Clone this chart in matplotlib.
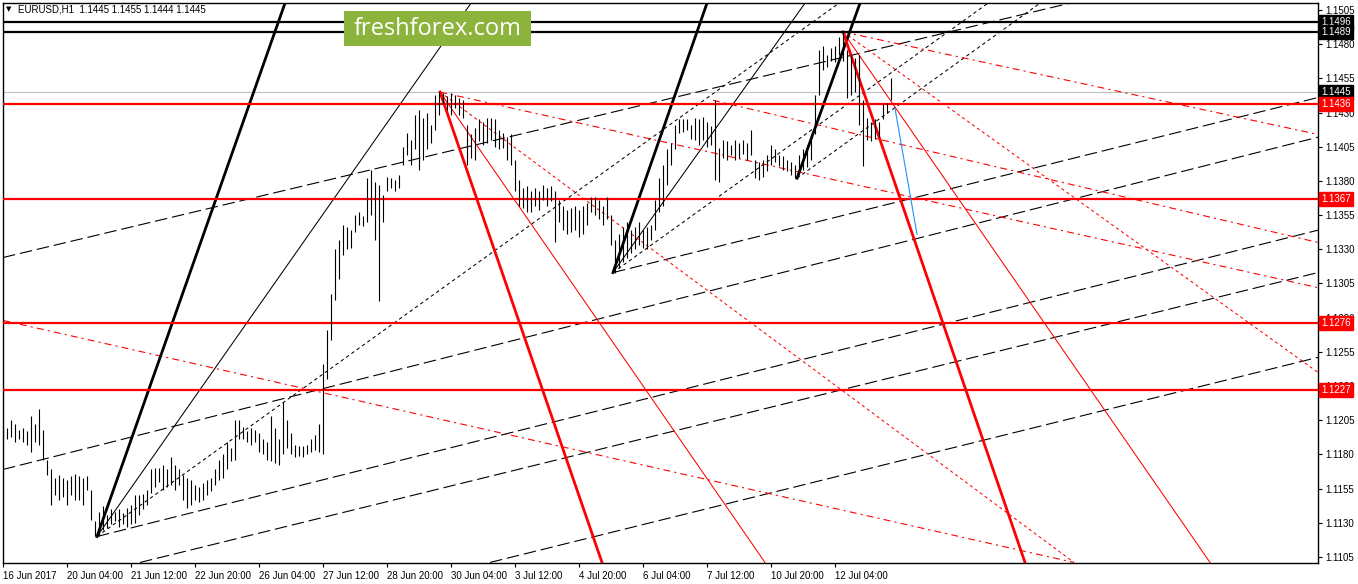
import matplotlib
matplotlib.use("Agg")
import matplotlib.pyplot as plt
from matplotlib.patches import Rectangle

plt.rcParams['lines.scale_dashes'] = False
plt.rcParams['font.family'] = ['Liberation Sans', 'DejaVu Sans']

# hourly index: one candle every 2 hours, x axis counted in hours from the first bar
bar_high = [1.1199, 1.1199, 1.1205, 1.1202, 1.1198, 1.1199, 1.1197, 1.1208, 1.1202, 1.1213,
            1.1198, 1.1176, 1.1169, 1.1163, 1.1165, 1.1163, 1.1161, 1.1164, 1.1166, 1.1164,
            1.1163, 1.1164, 1.1154, 1.1131, 1.1138, 1.1142, 1.1136, 1.1140, 1.1138, 1.1140,
            1.1137, 1.1141, 1.1143, 1.1150, 1.1150, 1.1151, 1.1154, 1.1169, 1.1170, 1.1170,
            1.1172, 1.1169, 1.1178, 1.1172, 1.1169, 1.1165, 1.1163, 1.1161, 1.1158, 1.1156,
            1.1159, 1.1161, 1.1163, 1.1169, 1.1176, 1.1180, 1.1189, 1.1185, 1.1205, 1.1205,
            1.1200, 1.1197, 1.1199, 1.1198, 1.1196, 1.1191, 1.1189, 1.1208, 1.1199, 1.1191,
            1.1218, 1.1205, 1.1196, 1.1187, 1.1186, 1.1186, 1.1187, 1.1191, 1.1194, 1.1202,
            1.1246, 1.1271, 1.1297, 1.1330, 1.1337, 1.1348, 1.1346, 1.1344, 1.1355, 1.1357,
            1.1354, 1.1382, 1.1388, 1.1379, 1.1377, 1.1370, 1.1383, 1.1382, 1.1381, 1.1384,
            1.1405, 1.1415, 1.1410, 1.1428, 1.1432, 1.1426, 1.1430, 1.1421, 1.1443, 1.1445,
            1.1444, 1.1442, 1.1444, 1.1443, 1.1441, 1.1439, 1.1421, 1.1414, 1.1419, 1.1425,
            1.1423, 1.1426, 1.1426, 1.1425, 1.1417, 1.1415, 1.1412, 1.1414, 1.1395, 1.1381,
            1.1375, 1.1376, 1.1373, 1.1375, 1.1373, 1.1377, 1.1375, 1.1376, 1.1373, 1.1366,
            1.1362, 1.1359, 1.1360, 1.1362, 1.1359, 1.1362, 1.1364, 1.1368, 1.1368, 1.1366,
            1.1362, 1.1368, 1.1355, 1.1337, 1.1341, 1.1346, 1.1350, 1.1344, 1.1346, 1.1350,
            1.1344, 1.1346, 1.1348, 1.1366, 1.1382, 1.1392, 1.1403, 1.1408, 1.1421, 1.1425,
            1.1425, 1.1425, 1.1421, 1.1426, 1.1425, 1.1427, 1.1423, 1.1420, 1.1439, 1.1404,
            1.1410, 1.1409, 1.1406, 1.1410, 1.1408, 1.1410, 1.1408, 1.1417, 1.1395, 1.1394,
            1.1395, 1.1399, 1.1406, 1.1403, 1.1399, 1.1398, 1.1395, 1.1394, 1.1392, 1.1399,
            1.1403, 1.1406, 1.1414, 1.1443, 1.1476, 1.1479, 1.1472, 1.1477, 1.1479, 1.1485,
            1.1489, 1.1476, 1.1472, 1.1470, 1.1472, 1.1439, 1.1426, 1.1423, 1.1425, 1.1423,
            1.1436, 1.1437, 1.1455]
bar_low = [1.1189, 1.1191, 1.1193, 1.1189, 1.1191, 1.1189, 1.1187, 1.1182, 1.1189, 1.1187,
           1.1176, 1.1165, 1.1143, 1.1150, 1.1147, 1.1149, 1.1143, 1.1150, 1.1147, 1.1147,
           1.1143, 1.1154, 1.1132, 1.1120, 1.1120, 1.1125, 1.1126, 1.1129, 1.1131, 1.1127,
           1.1129, 1.1127, 1.1129, 1.1130, 1.1136, 1.1140, 1.1143, 1.1152, 1.1156, 1.1160,
           1.1154, 1.1156, 1.1158, 1.1154, 1.1158, 1.1147, 1.1141, 1.1143, 1.1147, 1.1145,
           1.1147, 1.1150, 1.1153, 1.1158, 1.1161, 1.1163, 1.1169, 1.1175, 1.1176, 1.1191,
           1.1191, 1.1189, 1.1187, 1.1189, 1.1182, 1.1180, 1.1176, 1.1175, 1.1174, 1.1172,
           1.1180, 1.1185, 1.1180, 1.1178, 1.1179, 1.1178, 1.1180, 1.1182, 1.1183, 1.1182,
           1.1180, 1.1235, 1.1264, 1.1293, 1.1308, 1.1326, 1.1330, 1.1331, 1.1343, 1.1348,
           1.1347, 1.1350, 1.1355, 1.1337, 1.1292, 1.1350, 1.1373, 1.1375, 1.1373, 1.1375,
           1.1392, 1.1399, 1.1392, 1.1403, 1.1388, 1.1395, 1.1403, 1.1408, 1.1417, 1.1428,
           1.1436, 1.1432, 1.1428, 1.1433, 1.1428, 1.1426, 1.1392, 1.1397, 1.1395, 1.1409,
           1.1406, 1.1408, 1.1410, 1.1405, 1.1403, 1.1404, 1.1395, 1.1392, 1.1373, 1.1362,
           1.1360, 1.1357, 1.1357, 1.1362, 1.1359, 1.1366, 1.1362, 1.1365, 1.1335, 1.1350,
           1.1344, 1.1341, 1.1343, 1.1344, 1.1339, 1.1341, 1.1348, 1.1357, 1.1355, 1.1352,
           1.1348, 1.1352, 1.1333, 1.1313, 1.1316, 1.1321, 1.1324, 1.1327, 1.1330, 1.1333,
           1.1331, 1.1330, 1.1337, 1.1344, 1.1357, 1.1362, 1.1377, 1.1392, 1.1403, 1.1415,
           1.1416, 1.1417, 1.1411, 1.1410, 1.1406, 1.1410, 1.1405, 1.1406, 1.1381, 1.1379,
           1.1397, 1.1395, 1.1399, 1.1395, 1.1397, 1.1400, 1.1395, 1.1399, 1.1382, 1.1381,
           1.1383, 1.1387, 1.1392, 1.1394, 1.1391, 1.1388, 1.1387, 1.1384, 1.1382, 1.1384,
           1.1388, 1.1390, 1.1395, 1.1414, 1.1443, 1.1461, 1.1463, 1.1468, 1.1467, 1.1472,
           1.1468, 1.1441, 1.1443, 1.1445, 1.1421, 1.1391, 1.1410, 1.1409, 1.1411, 1.1412,
           1.1425, 1.1430, 1.1439]
bar_step = 2

tick_hours = [0, 32, 64, 96, 128, 160, 192, 224, 256, 288, 320, 352, 384, 416]
tick_text = ['16 Jun 2017', '20 Jun 04:00', '21 Jun 12:00', '22 Jun 20:00', '26 Jun 04:00',
             '27 Jun 12:00', '28 Jun 20:00', '30 Jun 04:00', '3 Jul 12:00', '4 Jul 20:00',
             '6 Jul 04:00', '7 Jul 12:00', '10 Jul 20:00', '12 Jul 04:00']
price_ticks = [1.1105 + 0.0025 * k for k in range(17)]

black_levels = [1.1496, 1.1489]
red_levels = [1.1436, 1.1367, 1.1276, 1.1227]
last_price = 1.1445

# fan / channel lines: ((hour, price), (hour, price))
thick_black = [((47, 1.1120), (141, 1.1510)), ((305, 1.1313), (352, 1.1510)),
               ((397, 1.1382), (428.5, 1.1510))]
thin_black = [((47, 1.1120), (234, 1.1510)), ((305, 1.1313), (401, 1.1510))]
dot_black = [((47, 1.1120), (418, 1.1510)), ((305, 1.1313), (492.5, 1.1510)),
             ((397, 1.1382), (518.5, 1.1510))]
dash_black = [((0, 1.1324), (533.5, 1.1510)), ((0, 1.1169), (657.5, 1.1412)),
              ((305, 1.1313), (657.5, 1.1441)), ((47, 1.1120), (657.5, 1.1344)),
              ((68.5, 1.1101), (657.5, 1.1313)), ((243.5, 1.1101), (657.5, 1.1251))]
thick_red = [((218.5, 1.1445), (299.5, 1.1101)), ((420, 1.1489), (511, 1.1101))]
thin_red = [((218.5, 1.1445), (381, 1.1101)), ((420, 1.1489), (603.5, 1.1101))]
dot_red = [((218.5, 1.1445), (535.5, 1.1101)), ((420, 1.1489), (657.5, 1.1240))]
dash_red = [((218.5, 1.1445), (657.5, 1.1302)), ((420, 1.1489), (657.5, 1.1414)),
            ((355, 1.1439), (657.5, 1.1335)), ((0, 1.1278), (535.5, 1.1101))]
blue_line = [(446, 1.1433), (457, 1.1341)]

W, H = 1358, 584
fig = plt.figure(figsize=(W / 100, H / 100), dpi=100)
ax = fig.add_axes([3 / W, 21 / H, 1315 / W, 560 / H])
ax.set_xlim(0, 657.5)
ax.set_ylim(1.110061, 1.151012)

RED = '#ff0000'
lines_cfg = [
    (dash_black, 'black', 0.8, (0, (9, 3.5))),
    (dot_black, 'black', 0.75, (0, (2.5, 2.2))),
    (thin_black, 'black', 0.75, '-'),
    (dash_red, RED, 0.8, (0, (5, 3, 1.5, 3))),
    (dot_red, RED, 0.75, (0, (2.2, 2.2))),
    (thin_red, RED, 0.75, '-'),
    (thick_black, 'black', 2.0, '-'),
    (thick_red, RED, 2.0, '-'),
]
for segs, col, lw, ls in lines_cfg:
    for (x0, y0), (x1, y1) in segs:
        ax.plot([x0, x1], [y0, y1], color=col, lw=lw, linestyle=ls, zorder=2)

for lv in black_levels:
    ax.axhline(lv, color='black', lw=1.6, zorder=3)
for lv in red_levels:
    ax.axhline(lv, color=RED, lw=1.6, zorder=3)
ax.axhline(last_price, color='#c0c0c0', lw=0.8, zorder=1)

bx = [i * bar_step for i in range(len(bar_high))]
ax.vlines(bx, bar_low, bar_high, color='black', lw=0.8, zorder=4)

ax.plot([p[0] for p in blue_line], [p[1] for p in blue_line], color='#1e90ff', lw=0.8, zorder=4)

# axes look
for s in ['top', 'left', 'right', 'bottom']:
    ax.spines[s].set_linewidth(1.0)
ax.yaxis.tick_right()
ax.set_yticks(price_ticks)
ax.set_yticklabels(['%.4f' % p for p in price_ticks])
ax.set_xticks(tick_hours)
ax.set_xticklabels(tick_text)
for lab in ax.get_xticklabels():
    lab.set_ha('left')
ax.tick_params(axis='both', direction='out', length=3, width=0.8, labelsize=7, pad=2)
ax.tick_params(axis='x', pad=3)

# price boxes on the right
box_items = [(1.1496, 'black'), (1.1489, 'black'), (last_price, 'black')]
box_items += [(lv, RED) for lv in red_levels]
for lv, col in box_items:
    ax.text(1.0025, lv, '%.4f' % lv, transform=ax.get_yaxis_transform(), color='white',
            fontsize=7, va='center', ha='left', clip_on=False, zorder=20,
            bbox=dict(boxstyle='square,pad=0.22', fc=col, ec=col))

fig.text(18 / W, 1 - 9 / H, 'EURUSD,H1  1.1445 1.1455 1.1444 1.1445', fontsize=7,
         va='center', ha='left', color='black')
fig.text(6 / W, 1 - 9 / H, '\u25bc', fontsize=5, va='center', ha='left', color='black',
         family='DejaVu Sans')

# watermark
fig.add_artist(Rectangle((344 / W, 1 - 46 / H), 187 / W, 35 / H, transform=fig.transFigure,
                         facecolor='#8cb43c', edgecolor='none', zorder=10))
fig.text(437.5 / W, 1 - 29 / H, 'freshforex.com', fontsize=17, color='white', ha='center',
         va='center', family='Open Sans', zorder=11)

fig.savefig('out.png', dpi=100)
